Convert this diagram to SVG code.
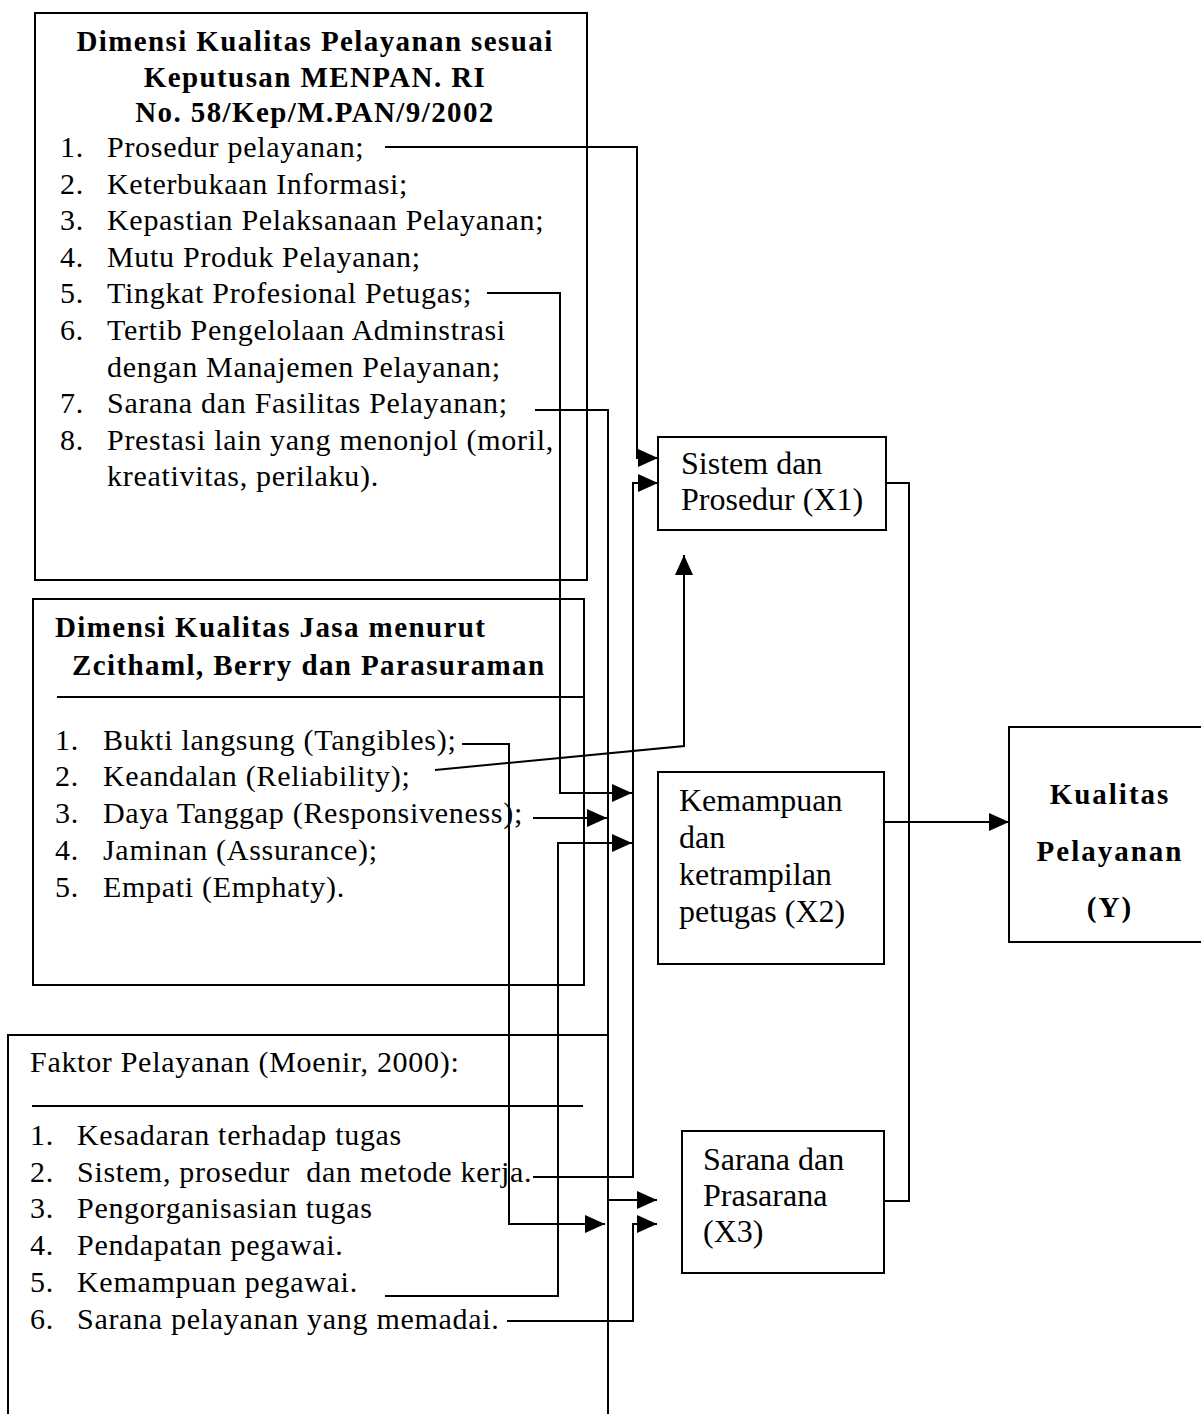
<svg xmlns="http://www.w3.org/2000/svg" width="1201" height="1414" viewBox="0 0 1201 1414">
  <style>
    .box { fill: none; stroke: #000; stroke-width: 2; }
    .line { fill: none; stroke: #000; stroke-width: 2; }
    .t { font-family: "Liberation Serif", "Times New Roman", serif; font-size: 30px; letter-spacing: 0.7px; fill: #000; }
    .h { font-family: "Liberation Serif", "Times New Roman", serif; font-size: 29px; font-weight: bold; letter-spacing: 1.4px; fill: #000; }
    .v { font-family: "Liberation Serif", "Times New Roman", serif; font-size: 32px; fill: #000; }
    .y { font-family: "Liberation Serif", "Times New Roman", serif; font-size: 29px; font-weight: bold; letter-spacing: 2px; fill: #000; }
  </style>
  <defs>
    <marker id="arrow" markerUnits="userSpaceOnUse" markerWidth="20" markerHeight="18" refX="20" refY="9" orient="auto">
      <path d="M0,0 L20,9 L0,18 z" fill="#000"/>
    </marker>
  </defs>
  <rect width="1201" height="1414" fill="#fff"/>

  <!-- MENPAN service quality dimensions -->
  <g id="menpan">
    <rect class="box" x="35" y="13" width="552" height="567"/>
    <text class="h" x="315" y="51" text-anchor="middle">Dimensi Kualitas Pelayanan sesuai</text>
    <text class="h" x="315" y="87" text-anchor="middle">Keputusan MENPAN. RI</text>
    <text class="h" x="315" y="122" text-anchor="middle">No. 58/Kep/M.PAN/9/2002</text>
    <g class="t">
      <text x="60" y="157">1.</text><text x="107" y="157">Prosedur pelayanan;</text>
      <text x="60" y="194">2.</text><text x="107" y="194">Keterbukaan Informasi;</text>
      <text x="60" y="230">3.</text><text x="107" y="230">Kepastian Pelaksanaan Pelayanan;</text>
      <text x="60" y="267">4.</text><text x="107" y="267">Mutu Produk Pelayanan;</text>
      <text x="60" y="303">5.</text><text x="107" y="303">Tingkat Profesional Petugas;</text>
      <text x="60" y="340">6.</text><text x="107" y="340">Tertib Pengelolaan Adminstrasi</text>
      <text x="107" y="377">dengan Manajemen Pelayanan;</text>
      <text x="60" y="413">7.</text><text x="107" y="413">Sarana dan Fasilitas Pelayanan;</text>
      <text x="60" y="450">8.</text><text x="107" y="450">Prestasi lain yang menonjol (moril,</text>
      <text x="107" y="486">kreativitas, perilaku).</text>
    </g>
  </g>

  <!-- Service quality dimensions (Zeithaml et al.) -->
  <g id="servqual">
    <rect class="box" x="33" y="599" width="551" height="386"/>
    <line class="line" x1="57" y1="697" x2="584" y2="697"/>
    <text class="h" x="55" y="637">Dimensi Kualitas Jasa menurut</text>
    <text class="h" x="72" y="675">Zcithaml, Berry dan Parasuraman</text>
    <g class="t">
      <text x="55" y="750">1.</text><text x="103" y="750">Bukti langsung (Tangibles);</text>
      <text x="55" y="786">2.</text><text x="103" y="786">Keandalan (Reliability);</text>
      <text x="55" y="823">3.</text><text x="103" y="823">Daya Tanggap (Responsiveness);</text>
      <text x="55" y="860">4.</text><text x="103" y="860">Jaminan (Assurance);</text>
      <text x="55" y="897">5.</text><text x="103" y="897">Empati (Emphaty).</text>
    </g>
  </g>

  <!-- Service factors (Moenir) -->
  <g id="moenir">
    <path class="box" d="M8 1414 V1035 H608 V1414"/>
    <line class="line" x1="32" y1="1106" x2="583" y2="1106"/>
    <text class="t" x="30" y="1072">Faktor Pelayanan (Moenir, 2000):</text>
    <g class="t">
      <text x="30" y="1145">1.</text><text x="77" y="1145">Kesadaran terhadap tugas</text>
      <text x="30" y="1182">2.</text><text x="77" y="1182">Sistem, prosedur &#160;dan metode kerja.</text>
      <text x="30" y="1218">3.</text><text x="77" y="1218">Pengorganisasian tugas</text>
      <text x="30" y="1255">4.</text><text x="77" y="1255">Pendapatan pegawai.</text>
      <text x="30" y="1292">5.</text><text x="77" y="1292">Kemampuan pegawai.</text>
      <text x="30" y="1329">6.</text><text x="77" y="1329">Sarana pelayanan yang memadai.</text>
    </g>
  </g>

  <g id="x1">
    <rect class="box" x="658" y="437" width="228" height="93"/>
    <text class="v" x="681" y="474">Sistem dan</text>
    <text class="v" x="681" y="510">Prosedur (X1)</text>
  </g>

  <g id="x2">
    <rect class="box" x="658" y="772" width="226" height="192"/>
    <text class="v" x="679" y="811">Kemampuan</text>
    <text class="v" x="679" y="848">dan</text>
    <text class="v" x="679" y="885">ketrampilan</text>
    <text class="v" x="679" y="922">petugas (X2)</text>
  </g>

  <g id="x3">
    <rect class="box" x="682" y="1131" width="202" height="142"/>
    <text class="v" x="703" y="1170">Sarana dan</text>
    <text class="v" x="703" y="1206">Prasarana</text>
    <text class="v" x="703" y="1242">(X3)</text>
  </g>

  <g id="y">
    <rect class="box" x="1009" y="727" width="200" height="215"/>
    <text class="y" x="1110" y="804" text-anchor="middle">Kualitas</text>
    <text class="y" x="1110" y="861" text-anchor="middle">Pelayanan</text>
    <text class="y" x="1110" y="917" text-anchor="middle">(Y)</text>
  </g>

  <g id="connectors">
    <path class="line" d="M385 147 H637 V458 H658" marker-end="url(#arrow)"/>
    <path class="line" d="M533 1177 H633 V483 H658" marker-end="url(#arrow)"/>
    <path class="line" d="M487 293 H560 V793 H632" marker-end="url(#arrow)"/>
    <path class="line" d="M535 410 H608 V1200 H657" marker-end="url(#arrow)"/>
    <path class="line" d="M462 744 H509 V1224 H605" marker-end="url(#arrow)"/>
    <path class="line" d="M435 770 L684 746 V555" marker-end="url(#arrow)"/>
    <path class="line" d="M533 818 H607" marker-end="url(#arrow)"/>
    <path class="line" d="M385 1296 H558 V843 H632" marker-end="url(#arrow)"/>
    <path class="line" d="M507 1321 H633 V1224 H657" marker-end="url(#arrow)"/>
    <path class="line" d="M886 483 H909 V1201 H884"/>
    <path class="line" d="M884 822 H1009" marker-end="url(#arrow)"/>
  </g>
</svg>
